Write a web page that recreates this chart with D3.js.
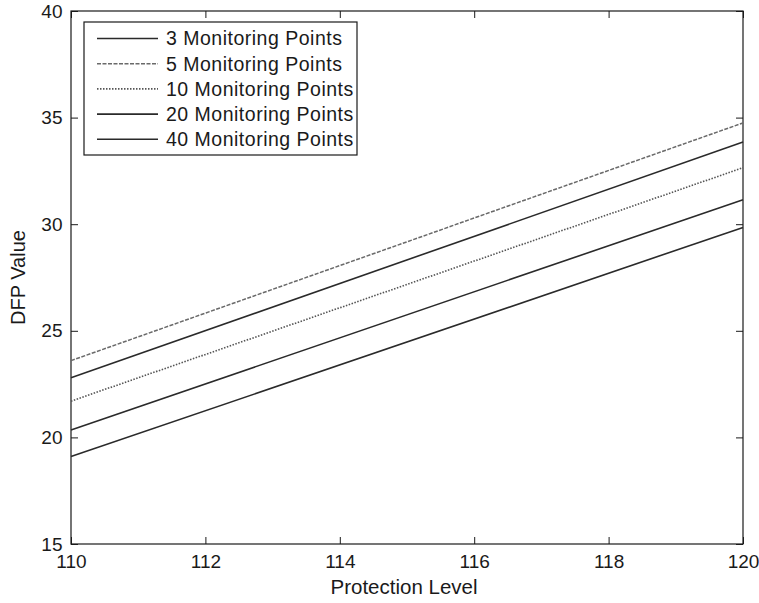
<!DOCTYPE html>
<html lang="en">
<head>
<meta charset="UTF-8">
<title>DFP value vs protection level</title>
<script src="https://cdn.jsdelivr.net/npm/d3@7"></script>
<style>
    body { margin: 0; background: #fff; }
    svg { display: block; }
    text { font-family: "Liberation Sans", Arial, sans-serif; fill: #1a1a1a; }
    .axis path, .axis line { stroke: #1a1a1a; }
</style>
</head>
<body>
<svg id="main" width="759" height="603"></svg>
<script>
// protection level on x, DFP value on y (each line is straight, so just its two ends)
const levels = [110, 120];
const seriesNames = ["3 Monitoring Points", "5 Monitoring Points", "10 Monitoring Points", "20 Monitoring Points", "40 Monitoring Points"];
const dfp3 = [22.8, 33.85];
const dfp5 = [23.6, 34.75];
const dfp10 = [21.7, 32.65];
const dfp20 = [20.35, 31.15];
const dfp40 = [19.1, 29.85];
const xTicks = [110, 112, 114, 116, 118, 120];
const yTicks = [15, 20, 25, 30, 35, 40];

const W = 759, H = 603;
const margins = { top: 11, right: 16, bottom: 59, left: 71 };
const svg = d3.select("#main");

const xScale = d3.scaleLinear().domain([110, 120]).range([margins.left, W - margins.right]);
const yScale = d3.scaleLinear().domain([15, 40]).range([H - margins.bottom, margins.top]);

const styles = [
    { stroke: "#2a2a2a", dash: null, width: 1.6 },
    { stroke: "#6a6a6a", dash: "4,1.5", width: 1.5 },
    { stroke: "#555", dash: "1.5,1.5", width: 1.6 },
    { stroke: "#2a2a2a", dash: null, width: 1.6 },
    { stroke: "#2a2a2a", dash: null, width: 1.6 }
];
const allValues = [dfp3, dfp5, dfp10, dfp20, dfp40];

// plot box
svg.append("rect")
    .attr("x", margins.left).attr("y", margins.top)
    .attr("width", W - margins.left - margins.right)
    .attr("height", H - margins.top - margins.bottom)
    .attr("fill", "none").attr("stroke", "#1a1a1a").attr("stroke-width", 1.2);

// axes with inward ticks, matlab style
const tickLen = 7;
svg.append("g").attr("class", "axis")
    .attr("transform", `translate(0,${H - margins.bottom})`)
    .call(d3.axisBottom(xScale).tickValues(xTicks).tickSizeInner(-tickLen).tickSizeOuter(0).tickPadding(10.5))
    .call(g => g.select(".domain").remove())
    .selectAll("text").attr("font-size", 19);
svg.append("g").attr("class", "axis")
    .attr("transform", `translate(0,${margins.top})`)
    .call(d3.axisTop(xScale).tickValues(xTicks).tickSizeInner(-tickLen).tickSizeOuter(0).tickFormat(""))
    .call(g => g.select(".domain").remove());
svg.append("g").attr("class", "axis")
    .attr("transform", `translate(${margins.left},0)`)
    .call(d3.axisLeft(yScale).tickValues(yTicks).tickSizeInner(-tickLen).tickSizeOuter(0).tickPadding(8.5))
    .call(g => g.select(".domain").remove())
    .selectAll("text").attr("font-size", 19);
svg.append("g").attr("class", "axis")
    .attr("transform", `translate(${W - margins.right},0)`)
    .call(d3.axisRight(yScale).tickValues(yTicks).tickSizeInner(-tickLen).tickSizeOuter(0).tickFormat(""))
    .call(g => g.select(".domain").remove());

// lines
const line = d3.line().x((d, i) => xScale(levels[i])).y(d => yScale(d));
svg.append("g").selectAll("path")
    .data(allValues)
    .enter()
    .append("path")
    .attr("d", d => line(d))
    .attr("fill", "none")
    .attr("stroke", (d, i) => styles[i].stroke)
    .attr("stroke-width", (d, i) => styles[i].width)
    .attr("stroke-dasharray", (d, i) => styles[i].dash);

// axis titles
svg.append("text")
    .attr("x", (margins.left + W - margins.right) / 2 - 3)
    .attr("y", 594)
    .attr("text-anchor", "middle")
    .attr("font-size", 20.5)
    .text("Protection Level");
svg.append("text")
    .attr("transform", `translate(25,${(margins.top + H - margins.bottom) / 2}) rotate(-90)`)
    .attr("text-anchor", "middle")
    .attr("font-size", 20)
    .text("DFP Value");

// legend
const legend = svg.append("g").attr("transform", "translate(84,22)");
legend.append("rect")
    .attr("width", 273).attr("height", 133)
    .attr("fill", "#fff").attr("stroke", "#1a1a1a").attr("stroke-width", 1.2);
const rows = legend.selectAll("g.row")
    .data(seriesNames)
    .enter()
    .append("g")
    .attr("class", "row")
    .attr("transform", (d, i) => `translate(0,${16.5 + i * 25.2})`);
rows.append("line")
    .attr("x1", 13).attr("x2", 74)
    .attr("stroke", (d, i) => styles[i].stroke)
    .attr("stroke-width", (d, i) => styles[i].width)
    .attr("stroke-dasharray", (d, i) => styles[i].dash);
rows.append("text")
    .attr("x", 82)
    .attr("dy", "0.35em")
    .attr("font-size", 19.5)
    .attr("letter-spacing", 0.5)
    .text(d => d);
</script>
</body>
</html>
